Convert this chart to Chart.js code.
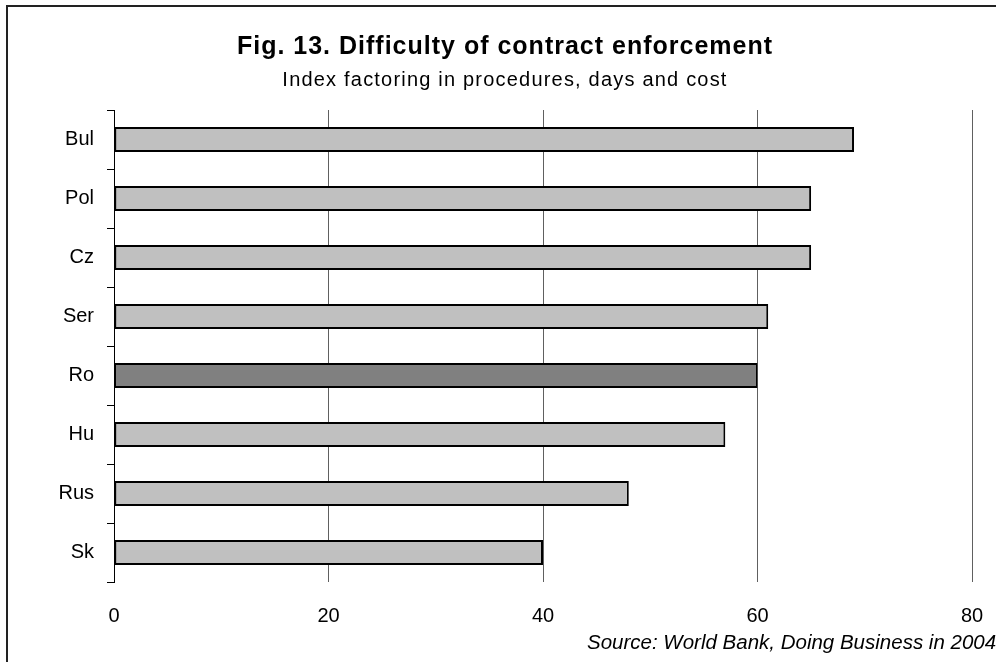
<!DOCTYPE html>
<html>
<head>
<meta charset="utf-8">
<title>Difficulty of contract enforcement</title>
<script src="https://cdn.jsdelivr.net/npm/chart.js@4/dist/chart.umd.min.js"></script>
<style>
  html, body { margin: 0; padding: 0; background: #ffffff; }
  canvas { display: block; }
</style>
</head>
<body>
<canvas id="chart" width="996" height="662"></canvas>
<script>
// Countries, top to bottom
const categories = ['Bul', 'Pol', 'Cz', 'Ser', 'Ro', 'Hu', 'Rus', 'Sk'];
// Contract enforcement index (procedures, days and cost)
const indexValues = [69, 65, 65, 61, 60, 57, 48, 40];
// Value axis ticks
const xTicks = [0, 20, 40, 60, 80];
// Country shown in a darker shade
const highlighted = 'Ro';

const titleText = 'Fig. 13. Difficulty of contract enforcement';
const subtitleText = 'Index factoring in procedures, days and cost';
const sourceText = 'Source: World Bank, Doing Business in 2004';

const FONT = '"Liberation Sans", Arial, Helvetica, sans-serif';

const barColors = categories.map(c => c === highlighted ? '#808080' : '#c0c0c0');

// Page frame and headings drawn around the plot
const decorations = {
  id: 'decorations',
  beforeDraw(chart) {
    const ctx = chart.ctx;
    ctx.save();
    ctx.fillStyle = '#ffffff';
    ctx.fillRect(0, 0, chart.width, chart.height);
    ctx.strokeStyle = '#222222';
    ctx.lineWidth = 2;
    ctx.beginPath();
    ctx.moveTo(7, chart.height + 2);
    ctx.lineTo(7, 6);
    ctx.lineTo(chart.width + 2, 6);
    ctx.stroke();
    ctx.restore();
  },
  afterDraw(chart) {
    const ctx = chart.ctx;
    ctx.save();
    ctx.fillStyle = '#000000';
    ctx.textBaseline = 'alphabetic';
    ctx.textAlign = 'center';
    ctx.font = 'bold 25px ' + FONT;
    ctx.letterSpacing = '1px';
    ctx.fillText(titleText, 505, 54);
    ctx.font = '20px ' + FONT;
    ctx.letterSpacing = '1.2px';
    ctx.fillText(subtitleText, 505, 86);
    ctx.letterSpacing = '0px';
    ctx.textAlign = 'left';
    ctx.font = 'italic 20.5px ' + FONT;
    ctx.fillText(sourceText, 587, 649);
    ctx.restore();
  }
};

new Chart(document.getElementById('chart'), {
  type: 'bar',
  data: {
    labels: categories,
    datasets: [{
      data: indexValues,
      backgroundColor: barColors,
      borderColor: '#000000',
      borderWidth: 2,
      borderSkipped: false,
      barPercentage: 0.42,
      categoryPercentage: 1.0
    }]
  },
  options: {
    indexAxis: 'y',
    responsive: false,
    animation: false,
    devicePixelRatio: 1,
    layout: { padding: { left: 0, right: 24, top: 110, bottom: 0 } },
    plugins: {
      legend: { display: false },
      tooltip: { enabled: false },
      title: { display: false }
    },
    scales: {
      x: {
        type: 'linear',
        min: xTicks[0],
        max: xTicks[xTicks.length - 1],
        afterBuildTicks(scale) {
          scale.ticks = xTicks.map(v => ({ value: v }));
        },
        afterFit(scale) {
          scale.height = 80;
          scale.paddingLeft = 0;
          scale.paddingRight = 0;
        },
        grid: {
          color: ctx => (ctx.tick && ctx.tick.value === 0) ? 'rgba(0,0,0,0)' : '#606060',
          lineWidth: 1,
          drawTicks: false
        },
        border: { display: false },
        ticks: {
          padding: 22,
          color: '#000000',
          font: { family: FONT, size: 20 }
        }
      },
      y: {
        afterFit(scale) { scale.width = 114; },
        grid: {
          offset: true,
          drawOnChartArea: false,
          drawTicks: true,
          tickLength: 7,
          color: '#000000',
          lineWidth: 1
        },
        border: { display: true, color: '#000000', width: 1 },
        ticks: {
          padding: 13,
          color: '#000000',
          font: { family: FONT, size: 20 }
        }
      }
    }
  },
  plugins: [decorations]
});
</script>
</body>
</html>
